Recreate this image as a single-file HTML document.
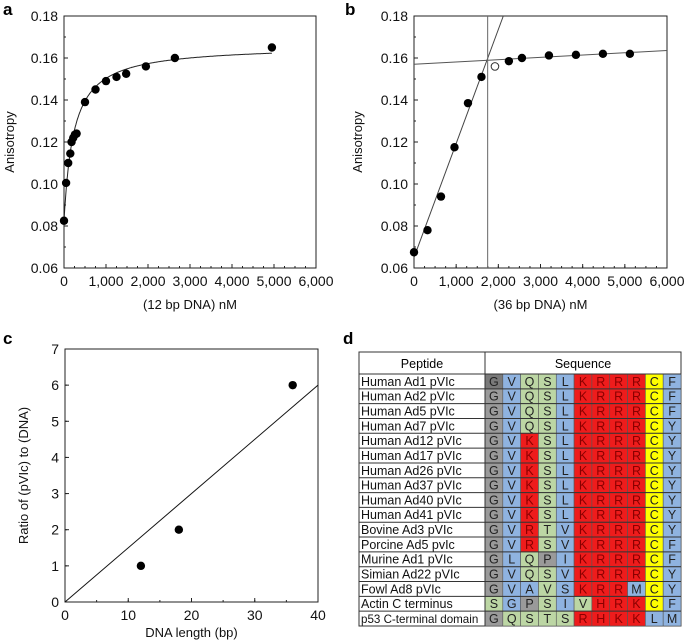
<!DOCTYPE html>
<html><head><meta charset="utf-8"><style>
body{margin:0;background:#fff}
svg{display:block;font-family:"Liberation Sans",Arial,sans-serif}
</style></head><body>
<svg id="fig" width="685" height="643" viewBox="0 0 685 643"></svg>
<script>
// Panel a data
const aX=[0,50,100,150,180,220,260,300,500,750,1000,1250,1480,1950,2640,4950];
const aY=[0.0825,0.1005,0.110,0.1145,0.120,0.122,0.1235,0.124,0.139,0.145,0.149,0.151,0.1525,0.156,0.160,0.165];
const aFit=[0.082,0.084,230]; // baseline, amplitude, Kd
// Panel b data
const bX=[0,320,640,960,1280,1600,2250,2560,3200,3840,4480,5120];
const bY=[0.0675,0.078,0.094,0.1175,0.1385,0.151,0.1585,0.160,0.1612,0.1615,0.162,0.162];
const bOpenX=[1920], bOpenY=[0.156];
const bSteep=[0.065,0.0000543]; // intercept, slope
const bFlat=[0.157,0.0000011];
const bVert=[1747];
// Panel c data
const cX=[12,18,36];
const cY=[1,2,6];
const cLine=[0,0.15];
const xTicksAB=[0,1000,2000,3000,4000,5000,6000];
const xTickLabelsAB=["0","1,000","2,000","3,000","4,000","5,000","6,000"];
const yTicksAB=[0.06,0.08,0.10,0.12,0.14,0.16,0.18];
const yTickLabelsAB=["0.06","0.08","0.10","0.12","0.14","0.16","0.18"];
const xTicksC=[0,10,20,30,40];
const yTicksC=[0,1,2,3,4,5,6,7];
// Table data
const peptides=["Human Ad1 pVIc","Human Ad2 pVIc","Human Ad5 pVIc","Human Ad7 pVIc","Human Ad12 pVIc","Human Ad17 pVIc","Human Ad26 pVIc","Human Ad37 pVIc","Human Ad40 pVIc","Human Ad41 pVIc","Bovine Ad3 pVIc","Porcine Ad5 pvIc","Murine Ad1 pVIc","Simian Ad22 pVIc","Fowl Ad8 pVIc","Actin C terminus","p53 C-terminal domain"];
const seqs=["GVQSLKRRRCF","GVQSLKRRRCF","GVQSLKRRRCF","GVQSLKRRRCY","GVKSLKRRRCY","GVKSLKRRRCY","GVKSLKRRRCY","GVKSLKRRRCY","GVKSLKRRRCY","GVKSLKRRRCY","GVRTVKRRRCY","GVRSVKRRRCF","GLQPIKRRRCF","GVQSVKRRRCY","GVAVSKRRMCY","SGPSIVHRKCF","GQSTSRHKKLM"];
const colorCodes=["ybggbrrrryb","ybggbrrrryb","ybggbrrrryb","ybggbrrrryb","ybrgbrrrryb","ybrgbrrrryb","ybrgbrrrryb","ybrgbrrrryb","ybrgbrrrryb","ybrgbrrrryb","ybrgbrrrryb","ybrgbrrrryb","ybgybrrrryb","ybggbrrrryb","ybbgbrrrbyb","gbygbgrrryb","yggggrrrrbb"];

const NS="http://www.w3.org/2000/svg";
const svg=document.getElementById('fig');
function mk(tag,attrs,parent,text){const e=document.createElementNS(NS,tag);for(const k in attrs)e.setAttribute(k,attrs[k]);if(text!==undefined)e.textContent=text;(parent||svg).appendChild(e);return e;}

function axes(p){
  const g=mk('g',{});
  
  
  const sx=v=>p.L+(v-p.x0)/(p.x1-p.x0)*(p.R-p.L);
  const sy=v=>p.B-(v-p.y0)/(p.y1-p.y0)*(p.B-p.T);
  const box=mk('rect',{x:p.L,y:p.T,width:p.R-p.L,height:p.B-p.T,fill:'none',stroke:'#222','stroke-width':1},g);
  
  for(let v=p.x0;v<=p.x1+1e-9;v+=p.xm){mk('line',{x1:sx(v),x2:sx(v),y1:p.B,y2:p.B-2,stroke:'#222'},g);}
  for(let v=p.y0;v<=p.y1+1e-9;v+=p.ym){mk('line',{x1:p.L,x2:p.L+2,y1:sy(v),y2:sy(v),stroke:'#222'},g);}
  p.xt.forEach((v,i)=>{mk('line',{x1:sx(v),x2:sx(v),y1:p.B,y2:p.B-4,stroke:'#222'},g);
    const t=mk('text',{x:sx(v),y:p.B+18,'font-size':14,'text-anchor':'middle',fill:'#111'},g,p.xl[i]);
    });
  p.yt.forEach((v,i)=>{mk('line',{x1:p.L,x2:p.L+4,y1:sy(v),y2:sy(v),stroke:'#222'},g);
    const t=mk('text',{x:p.L-6,y:sy(v)+5,'font-size':14,'text-anchor':'end',fill:'#111'},g,p.yl[i]);
    });
  const xt=mk('text',{x:(p.L+p.R)/2,y:p.B+p.xTitleOff,'font-size':13,'text-anchor':'middle',fill:'#111'},g,p.xTitle);
  
  const yx=p.yTitleX, yy=(p.T+p.B)/2;
  const yt=mk('text',{x:yx,y:yy,'font-size':13,'text-anchor':'middle',fill:'#111',transform:`rotate(-90 ${yx} ${yy})`},g,p.yTitle);
  
  const lb=mk('text',{x:p.labX,y:p.labY,'font-size':17,'font-weight':'bold',fill:'#000'},g,p.id);
  
  return {g,sx,sy};
}

// Panel a
let A=axes({id:'a',L:64,R:316,T:16,B:268,x0:0,x1:6000,y0:0.06,y1:0.18,xm:250,ym:0.01,xt:xTicksAB,xl:xTickLabelsAB,yt:yTicksAB,yl:yTickLabelsAB,xTitle:'(12 bp DNA) nM',xTitleOff:41,yTitle:'Anisotropy',yTitleX:14,labX:3,labY:15});
let d='';for(let x=0;x<=4950;x+=10){const y=aFit[0]+aFit[1]*x/(aFit[2]+x);d+=(x?'L':'M')+A.sx(x).toFixed(1)+' '+A.sy(y).toFixed(1);}
let fa=mk('path',{d:d,fill:'none',stroke:'#222','stroke-width':1},A.g);

aX.forEach((x,i)=>{const c=mk('circle',{cx:A.sx(x),cy:A.sy(aY[i]),r:4.2,fill:'#000'},A.g);
  });

// Panel b
let B=axes({id:'b',L:414,R:667,T:16,B:268,x0:0,x1:6000,y0:0.06,y1:0.18,xm:250,ym:0.01,xt:xTicksAB,xl:xTickLabelsAB,yt:yTicksAB,yl:yTickLabelsAB,xTitle:'(36 bp DNA) nM',xTitleOff:41,yTitle:'Anisotropy',yTitleX:362,labX:345,labY:15});
const xEnd=(0.18-bSteep[0])/bSteep[1];
let ls=mk('line',{x1:B.sx(0),y1:B.sy(bSteep[0]),x2:B.sx(xEnd),y2:B.sy(0.18),stroke:'#444','stroke-width':1},B.g);

let lf=mk('line',{x1:B.sx(0),y1:B.sy(bFlat[0]),x2:B.sx(6000),y2:B.sy(bFlat[0]+bFlat[1]*6000),stroke:'#555','stroke-width':1},B.g);

let lv=mk('line',{x1:B.sx(bVert[0]),y1:B.sy(0.18),x2:B.sx(bVert[0]),y2:B.sy(0.06),stroke:'#666','stroke-width':1},B.g);

bX.forEach((x,i)=>{const c=mk('circle',{cx:B.sx(x),cy:B.sy(bY[i]),r:4.2,fill:'#000'},B.g);
  });
bOpenX.forEach((x,i)=>{const c=mk('circle',{cx:B.sx(x),cy:B.sy(bOpenY[i]),r:3.8,fill:'#fff',stroke:'#333'},B.g);
  });

// Panel c
let C=axes({id:'c',L:65,R:318,T:349,B:602,x0:0,x1:40,y0:0,y1:7,xm:5,ym:1,xt:xTicksC,xl:xTicksC.map(String),yt:yTicksC,yl:yTicksC.map(String),xTitle:'DNA length (bp)',xTitleOff:35,yTitle:'Ratio of (pVIc) to (DNA)',yTitleX:28,labX:3,labY:344});
let lc=mk('line',{x1:C.sx(0),y1:C.sy(cLine[0]),x2:C.sx(40),y2:C.sy(cLine[0]+cLine[1]*40),stroke:'#111','stroke-width':1},C.g);

cX.forEach((x,i)=>{const c=mk('circle',{cx:C.sx(x),cy:C.sy(cY[i]),r:4.2,fill:'#000'},C.g);
  });

// Panel d table
const tg=mk('g',{});

const dl=mk('text',{x:343,y:344,'font-size':17,'font-weight':'bold'},tg,'d');

const TL=359,TD=485,TR=681,TT=352,TH=374,TB=626;
const rh=(TB-TH)/peptides.length, cw=(TR-TD)/11;
const cols={y:'#9a9a9a',b:'#8fb3e0',g:'#bcd6a4',r:'#ee1c1c',Y:'#ffff00'};
mk('rect',{x:TL,y:TT,width:TR-TL,height:TB-TT,fill:'#fff',stroke:'#333'},tg);
const h1=mk('text',{x:(TL+TD)/2,y:368,'font-size':12.5,'text-anchor':'middle'},tg,'Peptide');

const h2=mk('text',{x:(TD+TR)/2,y:368,'font-size':12.5,'text-anchor':'middle'},tg,'Sequence');

peptides.forEach((p,i)=>{
  const y=TH+i*rh;
  const t=mk('text',{x:TL+2,y:y+rh-3,'font-size':(p.length>18?11.6:12.5),fill:'#111'},tg,p);
  
  const code=colorCodes[i];
  for(let j=0;j<11;j++){
    const c=code[j];const aa=seqs[i][j];
    const fill=(aa==='C')?cols.Y:cols[c];
    const r=mk('rect',{x:TD+j*cw,y:y,width:cw,height:rh,fill:(i===0&&j===0)?'#7a7a7a':fill,stroke:'#555','stroke-width':0.6},tg);
    
    const tt=mk('text',{x:TD+j*cw+cw/2,y:y+rh-3,'font-size':12.5,'text-anchor':'middle',fill:fill===cols.r?'#8a0000':'#222'},tg,aa);
    
  }
  mk('line',{x1:TL,x2:TR,y1:y,y2:y,stroke:'#333','stroke-width':1},tg);
});
mk('line',{x1:TD,x2:TD,y1:TT,y2:TB,stroke:'#333'},tg);
</script>
</body></html>
